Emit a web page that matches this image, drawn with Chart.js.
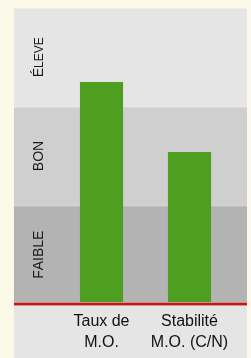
<!DOCTYPE html>
<html>
<head>
<meta charset="utf-8">
<script src="https://cdn.jsdelivr.net/npm/chart.js@4"></script>
<style>
  html, body { margin: 0; padding: 0; background: #fbf9e7; }
  #wrap { width: 251px; height: 358px; position: relative; }
</style>
</head>
<body>
<div id="wrap"><canvas id="soilChart" width="251" height="358"></canvas></div>
<script>
const categories = [['Taux de', 'M.O.'], ['Stabilité', 'M.O. (C/N)']];
const values = [2.25, 1.54];
// band labels, bottom to top: [first letter, rest, rest size]
const levels = [['F', 'AIBLE', 14], ['B', 'ON', 14], ['É', 'LEVE', 12]];
const bandColors = ['#b3b3b3', '#cfcfcf', '#e5e5e5'];

const bandsPlugin = {
    id: 'bands',
    beforeDraw(chart) {
        const ctx = chart.ctx;
        const y = chart.scales.y;
        const left = 14, right = 247;
        ctx.save();
        // label strip under the axis
        ctx.fillStyle = '#e5e5e5';
        ctx.fillRect(left, y.getPixelForValue(0), right - left, chart.height - y.getPixelForValue(0));
        for (let i = 0; i < levels.length; i++) {
            const top = y.getPixelForValue(i + 1);
            const bottom = y.getPixelForValue(i);
            ctx.fillStyle = bandColors[i];
            ctx.fillRect(left, top, right - left, bottom - top);
            ctx.strokeStyle = 'rgba(255,255,255,0.35)';
            ctx.lineWidth = 1;
            ctx.beginPath();
            ctx.moveTo(left, top + 0.5);
            ctx.lineTo(right, top + 0.5);
            ctx.stroke();

            // rotated level name
            const mid = (top + bottom) / 2;
            const lv = levels[i];
            ctx.save();
            ctx.translate(39, mid);
            ctx.rotate(-Math.PI / 2);
            ctx.fillStyle = '#1a1a1a';
            ctx.textBaseline = 'alphabetic';
            ctx.font = '14px "Liberation Sans", Arial, sans-serif';
            const w1 = ctx.measureText(lv[0]).width;
            ctx.font = lv[2] + 'px "Liberation Sans", Arial, sans-serif';
            const w2 = ctx.measureText(lv[1]).width;
            let x = -(w1 + w2) / 2;
            ctx.font = '14px "Liberation Sans", Arial, sans-serif';
            ctx.textAlign = 'left';
            ctx.fillText(lv[0], x, 4);
            ctx.font = lv[2] + 'px "Liberation Sans", Arial, sans-serif';
            ctx.fillText(lv[1], x + w1, 4);
            ctx.restore();
        }
        ctx.restore();
    },
    afterDatasetsDraw(chart) {
        const ctx = chart.ctx;
        const y0 = chart.scales.y.getPixelForValue(0);
        ctx.save();
        ctx.fillStyle = '#e28a8a';
        ctx.fillRect(14, y0 - 2, 233, 4);
        ctx.fillStyle = '#b01e1e';
        ctx.fillRect(14, y0 - 1, 233, 2);
        ctx.restore();
    }
};

const ctx = document.getElementById('soilChart').getContext('2d');
const soilChart = new Chart(ctx, {
    type: 'bar',
    data: {
        labels: categories,
        datasets: [{
            data: values,
            backgroundColor: '#4e9f1f',
            borderWidth: 0,
            barPercentage: 0.49,
            categoryPercentage: 1
        }]
    },
    options: {
        responsive: false,
        animation: false,
        layout: { padding: { left: 57.5, right: 17.5, top: 8, bottom: -2 } },
        plugins: { legend: { display: false }, tooltip: { enabled: false } },
        scales: {
            y: { display: false, min: 0, max: 3 },
            x: {
                grid: { display: false, drawTicks: false },
                border: { display: false },
                ticks: {
                    color: '#111',
                    padding: 7,
                    font: { family: '"Liberation Sans", Arial, sans-serif', size: 16, lineHeight: 21 / 16 }
                }
            }
        }
    },
    plugins: [bandsPlugin]
});
</script>
</body>
</html>
